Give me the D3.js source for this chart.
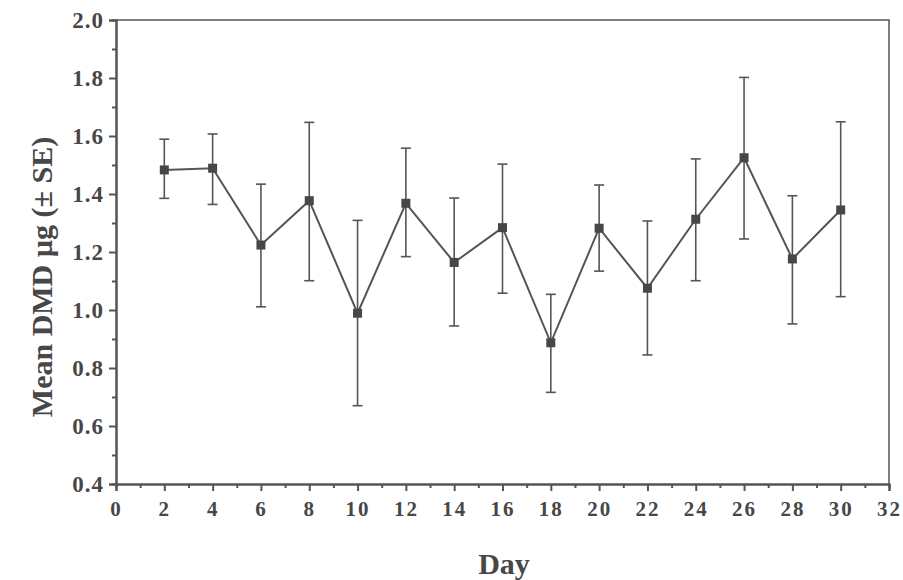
<!DOCTYPE html>
<html>
<head>
<meta charset="utf-8">
<script src="https://cdn.jsdelivr.net/npm/d3@7"></script>
<style>
    body { margin: 0; background: #fff; }
    svg text { font-family: "Liberation Serif", "Times New Roman", serif; font-weight: bold; fill: #474747; }
</style>
</head>
<body>
<div id="chart"></div>
<script>
// values
var days = [2, 4, 6, 8, 10, 12, 14, 16, 18, 20, 22, 24, 26, 28, 30];
var means = [1.483, 1.489, 1.224, 1.377, 0.989, 1.368, 1.164, 1.284, 0.887, 1.282, 1.075, 1.313, 1.525, 1.176, 1.345];
var upper = [1.589, 1.607, 1.434, 1.647, 1.309, 1.558, 1.386, 1.503, 1.054, 1.431, 1.307, 1.521, 1.802, 1.394, 1.649];
var lower = [1.385, 1.364, 1.011, 1.101, 0.670, 1.184, 0.945, 1.058, 0.716, 1.134, 0.845, 1.101, 1.245, 0.952, 1.046];
var xTicks = d3.range(0, 33, 2);
var yTicks = [0.4, 0.6, 0.8, 1.0, 1.2, 1.4, 1.6, 1.8, 2.0];

(function() {
    var margin = { top: 20, left: 116, right: 14, bottom: 96 },
        width = 903 - margin.left - margin.right,
        height = 580 - margin.top - margin.bottom;

    var ink = "#555";

    var svg = d3.select("#chart")
        .append("svg")
        .attr("width", width + margin.left + margin.right)
        .attr("height", height + margin.top + margin.bottom)
        .append("g")
        .attr("transform", "translate(" + margin.left + "," + margin.top + ")");

    var xPositionScale = d3.scaleLinear().domain([0, 32]).range([0, width]);
    var yPositionScale = d3.scaleLinear().domain([0.4, 2.0]).range([height, 0]);

    var datapoints = days.map(function(d, i) {
        return { day: d, mean: means[i], hi: upper[i], lo: lower[i] };
    });

    // frame (top and right)
    svg.append("path")
        .attr("d", "M0,0H" + width + "V" + height)
        .attr("fill", "none")
        .attr("stroke", ink)
        .attr("stroke-width", 1.5);

    // minor ticks
    var xAxisMinor = d3.axisBottom(xPositionScale).tickValues(d3.range(1, 32, 2)).tickSize(4).tickFormat("");
    var yAxisMinor = d3.axisLeft(yPositionScale).tickValues(d3.range(0.5, 2.0, 0.2)).tickSize(4).tickFormat("");

    svg.append("g").attr("transform", "translate(0," + height + ")").call(xAxisMinor);
    svg.append("g").call(yAxisMinor);

    var xAxis = d3.axisBottom(xPositionScale).tickValues(xTicks).tickSize(7).tickPadding(10).tickFormat(d3.format("d"));
    var yAxis = d3.axisLeft(yPositionScale).tickValues(yTicks).tickSize(7).tickPadding(5).tickFormat(d3.format(".1f"));

    svg.append("g")
        .attr("class", "x-axis")
        .attr("transform", "translate(0," + height + ")")
        .call(xAxis)
        .selectAll("text")
        .style("font-size", "21px")
        .style("letter-spacing", "2px");

    svg.append("g")
        .attr("class", "y-axis")
        .call(yAxis)
        .selectAll("text")
        .style("font-size", "23px")
        .style("letter-spacing", "1px");

    svg.selectAll(".domain, .tick line")
        .attr("stroke", ink)
        .attr("stroke-width", 2);

    // error bars
    var capW = 5;
    var bars = svg.selectAll(".err")
        .data(datapoints)
        .enter().append("g")
        .attr("class", "err")
        .attr("stroke", ink)
        .attr("stroke-width", 1.6);

    bars.append("line")
        .attr("x1", function(d) { return xPositionScale(d.day); })
        .attr("x2", function(d) { return xPositionScale(d.day); })
        .attr("y1", function(d) { return yPositionScale(d.hi); })
        .attr("y2", function(d) { return yPositionScale(d.lo); });

    bars.append("line")
        .attr("x1", function(d) { return xPositionScale(d.day) - capW; })
        .attr("x2", function(d) { return xPositionScale(d.day) + capW; })
        .attr("y1", function(d) { return yPositionScale(d.hi); })
        .attr("y2", function(d) { return yPositionScale(d.hi); });

    bars.append("line")
        .attr("x1", function(d) { return xPositionScale(d.day) - capW; })
        .attr("x2", function(d) { return xPositionScale(d.day) + capW; })
        .attr("y1", function(d) { return yPositionScale(d.lo); })
        .attr("y2", function(d) { return yPositionScale(d.lo); });

    var line = d3.line()
        .x(function(d) { return xPositionScale(d.day); })
        .y(function(d) { return yPositionScale(d.mean); });

    svg.append("path")
        .datum(datapoints)
        .attr("d", line)
        .attr("fill", "none")
        .attr("stroke", ink)
        .attr("stroke-width", 2);

    var sq = 9;
    svg.selectAll(".marker")
        .data(datapoints)
        .enter().append("rect")
        .attr("class", "marker")
        .attr("x", function(d) { return xPositionScale(d.day) - sq / 2; })
        .attr("y", function(d) { return yPositionScale(d.mean) - sq / 2; })
        .attr("width", sq)
        .attr("height", sq)
        .attr("fill", "#474747");

    // axis titles
    svg.append("text")
        .attr("x", 388)
        .attr("y", height + 90)
        .attr("text-anchor", "middle")
        .style("font-size", "30px")
        .text("Day");

    svg.append("text")
        .attr("transform", "translate(-64," + (yPositionScale(1.2) + 25) + ") rotate(-90)")
        .attr("text-anchor", "middle")
        .style("font-size", "30px")
        .text("Mean DMD \u00b5g (\u00b1 SE)");
})();
</script>
</body>
</html>
